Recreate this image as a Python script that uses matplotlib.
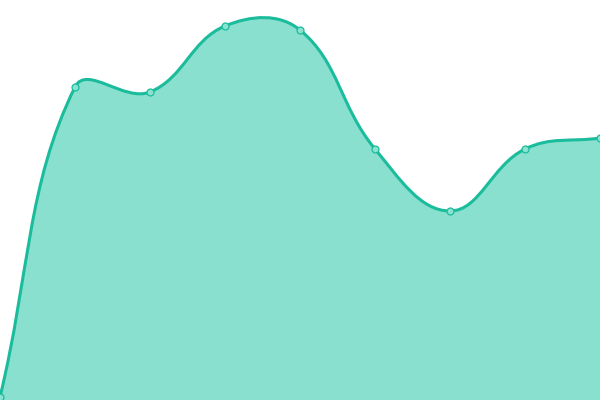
import numpy as np
import matplotlib.pyplot as plt
from matplotlib.path import Path
from matplotlib.patches import PathPatch

# values (canvas is 0..400 high)
labels = ["A", "B", "C", "D", "E", "F", "G", "H", "I"]
values = [3, 313, 308, 374, 370, 251, 189, 251, 262]

LINE = "#1abc9c"
FILL = "#89e0cf"
TENSION = 0.4


def spline_controls(xs, ys, t):
    """chart.js style bezier control points"""
    n = len(xs)
    cps = []
    for i in range(n):
        px, py = (xs[i - 1], ys[i - 1]) if i > 0 else (xs[i], ys[i])
        nx, ny = (xs[i + 1], ys[i + 1]) if i < n - 1 else (xs[i], ys[i])
        cx, cy = xs[i], ys[i]
        d01 = np.hypot(cx - px, cy - py)
        d12 = np.hypot(nx - cx, ny - cy)
        tot = d01 + d12
        s01 = d01 / tot if tot else 0
        s12 = d12 / tot if tot else 0
        fa, fb = t * s01, t * s12
        cps.append(((cx - fa * (nx - px), cy - fa * (ny - py)),
                    (cx + fb * (nx - px), cy + fb * (ny - py))))
    return cps


fig = plt.figure(figsize=(6, 4), dpi=100)
ax = fig.add_axes([0, 0, 1, 1])
ax.set_xlim(0, 600)
ax.set_ylim(0, 400)
ax.axis("off")

xs = np.arange(len(values)) * 75.0
ys = np.array(values, dtype=float)
cps = spline_controls(xs, ys, TENSION)

verts = [(xs[0], ys[0])]
codes = [Path.MOVETO]
for i in range(1, len(xs)):
    verts += [cps[i - 1][1], cps[i][0], (xs[i], ys[i])]
    codes += [Path.CURVE4] * 3

fill_verts = verts + [(xs[-1], 0), (xs[0], 0), (xs[0], ys[0])]
fill_codes = codes + [Path.LINETO, Path.LINETO, Path.CLOSEPOLY]
ax.add_patch(PathPatch(Path(fill_verts, fill_codes), facecolor=FILL,
                       edgecolor="none", zorder=1))
ax.add_patch(PathPatch(Path(verts, codes), facecolor="none",
                       edgecolor=LINE, linewidth=2.2, zorder=2))
ax.plot(xs, ys, linestyle="none", marker="o", markersize=5,
        markerfacecolor="#8ae3d0", markeredgecolor=LINE,
        markeredgewidth=0.9, zorder=3)

fig.savefig("out.png", dpi=100)
